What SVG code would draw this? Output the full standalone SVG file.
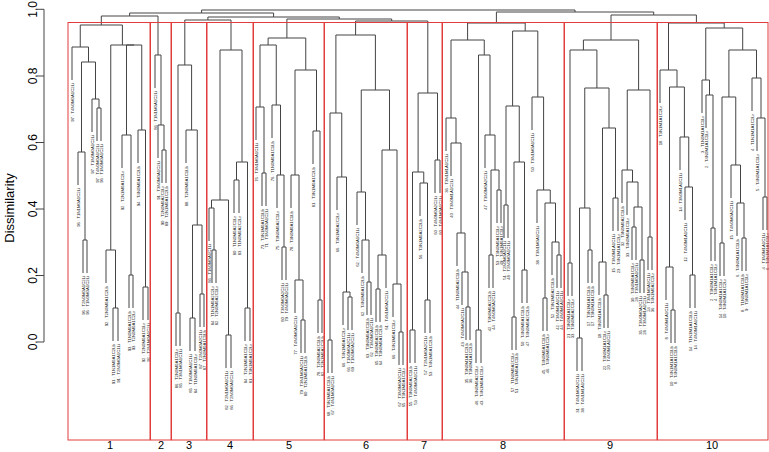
<svg xmlns="http://www.w3.org/2000/svg" width="769" height="452" viewBox="0 0 769 452">
<style>
.e{fill:none;stroke:#444;stroke-width:1}
.bx{fill:none;stroke:#e33c3c;stroke-width:1}
.l{font-family:"Liberation Sans",Arial,sans-serif;font-size:4.3px;fill:#222;text-anchor:end;dominant-baseline:central}
.ax{font-family:"Liberation Sans",Arial,sans-serif;font-size:12px;fill:#000;text-anchor:middle}
.yl{font-family:"Liberation Sans",Arial,sans-serif;font-size:13px;fill:#000;text-anchor:middle}
.cn{font-family:"Liberation Sans",Arial,sans-serif;font-size:11px;fill:#000;text-anchor:middle}
</style>
<rect width="769" height="452" fill="#fff"/>
<g id="axis">
<path class="e" stroke="#000" d="M44 9.3V342M37 342H44M37 275.5H44M37 209H44M37 142.5H44M37 76H44M37 9.3H44"/>
<text class="ax" transform="translate(37,342) rotate(-90)">0.0</text>
<text class="ax" transform="translate(37,275.5) rotate(-90)">0.2</text>
<text class="ax" transform="translate(37,209) rotate(-90)">0.4</text>
<text class="ax" transform="translate(37,142.5) rotate(-90)">0.6</text>
<text class="ax" transform="translate(37,76) rotate(-90)">0.8</text>
<text class="ax" transform="translate(37,9.3) rotate(-90)">1.0</text>
<text class="yl" transform="translate(14,208) rotate(-90)">Dissimilarity</text>
</g>
<g id="connectors">
<path class="e" d="M388 10H201.6V13M388 10H575V12M201.6 13H129.65V16M201.6 13H273.6V17M575 12H496.4V23M575 12H653.7V15M129.65 16H101.3V25M129.65 16H158V55M273.6 17H207.9V20M273.6 17H339.3V19M207.9 20H184.8V65M207.9 20H231V50M339.3 19H286.9V38M339.3 19H391.7V21M391.7 21H355.6V35M391.7 21H427.8V93M653.7 15H611V40M653.7 15H696.4V23"/>
<path class="e" d="M83 273V240H87V273M78 185V152H85V240M97 141V108H101V141M92 132V99H99V108M81.5 152V62H95.5V99M72 80V47H88.5V62M113 341V308H118V341M106 283V250H115.5V308M129 308V275H133V308M122 168V135H131V275M143 320V287H148V320M138 163V130H145.5V287M126.5 135V45H141.75V130M110.75 250V45H134.1M80.25 47V25H122.4V45"/>
<path class="e" d="M162 183V150H166V183M158 158V125H164V150M155 88V55H161V125"/>
<path class="e" d="M176 346V313H180V346M190 351V318H195V351M200 327V294H204V327M192.5 318V225H202V294M186 163V130H197.25V225M178 313V65H191.6V130"/>
<path class="e" d="M212 283V250H216V283M209 241V208H214V250M226 368V335H231V368M211.5 208V200H228.5V335M234 213V180H239V213M245 341V308H250V341M236.5 180V162H247.5V308M220 200V50H242V162"/>
<path class="e" d="M262 206V173H266V206M256 140V107H264V173M282 280V247H286V280M277 208V175H284V247M272 138V105H280.5V175M260 107V45H276.25V105M301 353V320H305V353M295 313V280H303V320M291 208V175H299V280M318 333V300H322V333M313 164V131H320V300M295 175V70H316.5V131M268.1 45V38H305.75V70"/>
<path class="e" d="M328 373V340H332V373M348 330V297H352V330M343 325V292H350V297M337 210V177H346.5V292M330 340V113H341.75V177M367 315V282H371V315M362 273V240H369V282M357 225V192H365.5V240M376 322V289H380V322M378 289V255H386V288M399 365V332H403V365M393 317V284H401V332M382 255V150H397V284M361.25 192V90H389.5V150M335.9 113V35H375.4V90"/>
<path class="e" d="M410 363V330H415V363M425 333V300H430V333M420 216V183H427.5V300M412.5 330V172H423.75V183M435 193V160H440V193M418.1 172V93H437.5V160"/>
<path class="e" d="M466 340V307H470V340M462 305V272H468V307M457 266V233H465V272M451 176V143H461V233M446 151V118H456V143M476 363V330H481V363M489 288V255H493V288M497 223V190H501V223M491 255V170H499V190M485 168V135H495V170M478.5 330V55H490V135M451 118V40H484.25V55M504 238V205H508V238M512 350V317H516V350M522 303V270H527V303M514 317V162H524.5V270M506 205V106H519.25V162M543 331V298H547V331M557 288V255H561V288M552 275V242H559V255M545 298V203H555.5V242M537 223V190H550.25V203M532 130V97H543.6V190M512.6 106V31H537.8V97M467.6 40V23H525.2V31"/>
<path class="e" d="M568 296V263H572V296M577 371V338H582V371M588 283V250H592V283M579.5 338V208H590V250M604 328V295H608V328M599 295V262H606V295M613 231V198H618V231M602.5 262V128H615.5V198M584.75 208V88H609V128M570 263V50H596.9V88M632 260V227H636V260M640 293V260H644V293M634 227V207H642V260M627 215V182H638V207M622 203V170H632.5V182M648 270V237H652V270M627.25 170V90H650V237M583.4 50V40H638.6V90"/>
<path class="e" d="M671 343V310H675V343M666 300V267H673V310M690 308V275H695V308M685 220V187H692.5V275M680 170V137H688.75V187M669.5 267V87H684.4V137M660 103V70H677V87M711 261V228H715V261M706 128V95H713V228M702 113V80H709.5V95M720 276V243H724V276M742 271V238H746V271M737 236V203H744V238M731 198V165H740.5V203M722 243V97H735.75V165M763 230V197H767V230M757 151V118H765V197M752 111V78H761V118M728.9 97V50H756.5V78M705.75 80V28H742.7V50M668.5 70V23H724.2V28"/>
</g>
<g id="cluster-1">
<text class="l" transform="translate(72,83) rotate(-90)">97 : T4N0M0A1C2Li</text>
<text class="l" transform="translate(78,188) rotate(-90)">96 : T1N1M0A1C2Li</text>
<text class="l" transform="translate(83,276) rotate(-90)">96 : T2N0M0A1C2Li</text>
<text class="l" transform="translate(87,276) rotate(-90)">96 : T1N0M0A1C2Li</text>
<text class="l" transform="translate(92,135) rotate(-90)">97 : T1N0M0A1C2Li</text>
<text class="l" transform="translate(97,144) rotate(-90)">97 : T4N0M0A1C2Li</text>
<text class="l" transform="translate(101,144) rotate(-90)">96 : T1N0M0A1C2Li</text>
<text class="l" transform="translate(106,286) rotate(-90)">92 : T2N0M0A1C2Lb</text>
<text class="l" transform="translate(113,344) rotate(-90)">91 : T1N1M0A1C2Lb</text>
<text class="l" transform="translate(118,344) rotate(-90)">91 : T2N0M0A1C1Li</text>
<text class="l" transform="translate(122,171) rotate(-90)">92 : T2N1M0A1C2Lr</text>
<text class="l" transform="translate(129,311) rotate(-90)">93 : T1N0M0A1C2Lb</text>
<text class="l" transform="translate(133,311) rotate(-90)">93 : T2N0M0A1C2Lr</text>
<text class="l" transform="translate(138,166) rotate(-90)">94 : T4N0M0A1C2Lb</text>
<text class="l" transform="translate(143,323) rotate(-90)">92 : T2N0M0A1C1Lr</text>
<text class="l" transform="translate(148,323) rotate(-90)">92 : T2N1M0A1C2Li</text>
</g>
<g id="cluster-2">
<text class="l" transform="translate(155,91) rotate(-90)">86 : T1N1M0A1C2Li</text>
<text class="l" transform="translate(158,161) rotate(-90)">91 : T3N0M0A1C2Li</text>
<text class="l" transform="translate(162,186) rotate(-90)">90 : T2N0M0A2C1Lr</text>
<text class="l" transform="translate(166,186) rotate(-90)">89 : T2N1M0A1C2Lb</text>
</g>
<g id="cluster-3">
<text class="l" transform="translate(176,349) rotate(-90)">86 : T2N0M0A1C1Lr</text>
<text class="l" transform="translate(180,349) rotate(-90)">85 : T3N1M0A1C1Li</text>
<text class="l" transform="translate(186,166) rotate(-90)">88 : T2N0M0A1C1Lb</text>
<text class="l" transform="translate(190,354) rotate(-90)">85 : T1N0M0A1C1Li</text>
<text class="l" transform="translate(195,354) rotate(-90)">84 : T1N0M0A1C1Lr</text>
<text class="l" transform="translate(200,330) rotate(-90)">87 : T2N0M0A2C1Li</text>
<text class="l" transform="translate(204,330) rotate(-90)">87 : T2N0M0A1C1Lb</text>
</g>
<g id="cluster-4">
<text class="l" transform="translate(209,244) rotate(-90)">86 : T1N0M0A1C1Li</text>
<text class="l" transform="translate(212,286) rotate(-90)">84 : T1N1M0A2C2Lr</text>
<text class="l" transform="translate(216,286) rotate(-90)">82 : T2N0M0A2C1Lr</text>
<text class="l" transform="translate(226,371) rotate(-90)">82 : T2N1M0A1C1Li</text>
<text class="l" transform="translate(231,371) rotate(-90)">86 : T2N0M0A1C2Li</text>
<text class="l" transform="translate(234,216) rotate(-90)">80 : T1N0M0A2C1Lr</text>
<text class="l" transform="translate(239,216) rotate(-90)">83 : T1N0M0A2C2Lr</text>
<text class="l" transform="translate(245,344) rotate(-90)">84 : T2N1M0A1C1Lr</text>
<text class="l" transform="translate(250,344) rotate(-90)">81 : T3N1M0A1C2Lr</text>
</g>
<g id="cluster-5">
<text class="l" transform="translate(256,143) rotate(-90)">76 : T3N1M0A1C1Li</text>
<text class="l" transform="translate(262,209) rotate(-90)">73 : T3N1M0A1C1Lb</text>
<text class="l" transform="translate(266,209) rotate(-90)">71 : T3N0M0A1C2Li</text>
<text class="l" transform="translate(272,141) rotate(-90)">76 : T1N0M0A1C1Lb</text>
<text class="l" transform="translate(277,211) rotate(-90)">75 : T3N0M0A2C1Lr</text>
<text class="l" transform="translate(282,283) rotate(-90)">80 : T3N0M0A2C2Li</text>
<text class="l" transform="translate(286,283) rotate(-90)">79 : T4N0M0A1C2Li</text>
<text class="l" transform="translate(291,211) rotate(-90)">78 : T3N0M0A1C1Lb</text>
<text class="l" transform="translate(295,316) rotate(-90)">77 : T4N0M0A1C2Li</text>
<text class="l" transform="translate(301,356) rotate(-90)">79 : T3N1M0A2C1Li</text>
<text class="l" transform="translate(305,356) rotate(-90)">80 : T2N1M0A1C1Lb</text>
<text class="l" transform="translate(313,167) rotate(-90)">81 : T3N1M0A1C2Lb</text>
<text class="l" transform="translate(318,336) rotate(-90)">78 : T2N0M0A2C1Lb</text>
<text class="l" transform="translate(322,336) rotate(-90)">82 : T2N1M0A2C2Lb</text>
</g>
<g id="cluster-6">
<text class="l" transform="translate(328,376) rotate(-90)">68 : T3N1M0A1C1Lb</text>
<text class="l" transform="translate(332,376) rotate(-90)">67 : T4N1M0A1C2Li</text>
<text class="l" transform="translate(337,213) rotate(-90)">66 : T3N1M0A2C2Lr</text>
<text class="l" transform="translate(343,328) rotate(-90)">66 : T4N1M0A1C2Lr</text>
<text class="l" transform="translate(348,333) rotate(-90)">66 : T1N0M0A2C1Li</text>
<text class="l" transform="translate(352,333) rotate(-90)">69 : T1N0M0A2C2Li</text>
<text class="l" transform="translate(357,228) rotate(-90)">62 : T4N0M0A1C1Li</text>
<text class="l" transform="translate(362,276) rotate(-90)">62 : T4N0M0A1C2Lb</text>
<text class="l" transform="translate(367,318) rotate(-90)">63 : T3N0M0A2C1Lb</text>
<text class="l" transform="translate(371,318) rotate(-90)">62 : T3N0M0A1C1Li</text>
<text class="l" transform="translate(376,325) rotate(-90)">65 : T3N0M0A2C1Lb</text>
<text class="l" transform="translate(380,325) rotate(-90)">64 : T3N0M0A1C2Lb</text>
<text class="l" transform="translate(386,291) rotate(-90)">61 : T4N1M0A2C2Li</text>
<text class="l" transform="translate(393,320) rotate(-90)">66 : T4N1M0A1C1Lr</text>
<text class="l" transform="translate(399,368) rotate(-90)">67 : T3N0M0A2C1Li</text>
<text class="l" transform="translate(403,368) rotate(-90)">65 : T3N1M0A1C1Lr</text>
</g>
<g id="cluster-7">
<text class="l" transform="translate(410,366) rotate(-90)">55 : T3N0M0A2C1Lb</text>
<text class="l" transform="translate(415,366) rotate(-90)">53 : T4N0M0A1C1Li</text>
<text class="l" transform="translate(420,219) rotate(-90)">56 : T3N1M0A2C2Lb</text>
<text class="l" transform="translate(425,336) rotate(-90)">57 : T2N1M0A2C1Li</text>
<text class="l" transform="translate(430,336) rotate(-90)">53 : T4N1M0A1C2Lb</text>
<text class="l" transform="translate(435,196) rotate(-90)">60 : T4N0M0A2C2Li</text>
<text class="l" transform="translate(440,196) rotate(-90)">60 : T4N1M0A1C2Li</text>
</g>
<g id="cluster-8">
<text class="l" transform="translate(446,154) rotate(-90)">36 : T3N1M1A1C2Li</text>
<text class="l" transform="translate(451,179) rotate(-90)">40 : T3N0M1A1C2Li</text>
<text class="l" transform="translate(457,269) rotate(-90)">44 : T1N0M0A2C1Lb</text>
<text class="l" transform="translate(462,308) rotate(-90)">43 : T4N0M0A2C1Li</text>
<text class="l" transform="translate(466,343) rotate(-90)">35 : T3N0M1A1C2Lb</text>
<text class="l" transform="translate(470,343) rotate(-90)">36 : T3N0M1A1C2Lb</text>
<text class="l" transform="translate(476,366) rotate(-90)">46 : T4N0M0A2C1Lr</text>
<text class="l" transform="translate(481,366) rotate(-90)">43 : T4N1M0A1C1Lr</text>
<text class="l" transform="translate(485,171) rotate(-90)">47 : T3N0M0A2C2Li</text>
<text class="l" transform="translate(489,291) rotate(-90)">42 : T3N0M0A2C2Lb</text>
<text class="l" transform="translate(493,291) rotate(-90)">44 : T4N0M0A2C1Li</text>
<text class="l" transform="translate(497,226) rotate(-90)">53 : T3N0M0A1C1Lr</text>
<text class="l" transform="translate(501,226) rotate(-90)">49 : T4N1M0A1C1Lr</text>
<text class="l" transform="translate(504,241) rotate(-90)">51 : T2N0M0A1C1Li</text>
<text class="l" transform="translate(508,241) rotate(-90)">48 : T2N0M0A1C1Li</text>
<text class="l" transform="translate(512,353) rotate(-90)">57 : T1N0M0A2C1Lr</text>
<text class="l" transform="translate(516,353) rotate(-90)">51 : T4N1M0A1C1Lb</text>
<text class="l" transform="translate(522,306) rotate(-90)">50 : T4N0M0A1C1Lb</text>
<text class="l" transform="translate(527,306) rotate(-90)">47 : T4N0M0A2C2Lb</text>
<text class="l" transform="translate(532,133) rotate(-90)">50 : T3N1M0A1C1Li</text>
<text class="l" transform="translate(537,226) rotate(-90)">38 : T3N1M0A1C2Li</text>
<text class="l" transform="translate(543,334) rotate(-90)">45 : T4N0M0A1C1Lb</text>
<text class="l" transform="translate(547,334) rotate(-90)">46 : T4N0M0A1C2Lr</text>
<text class="l" transform="translate(552,278) rotate(-90)">52 : T3N1M0A2C1Lb</text>
<text class="l" transform="translate(557,291) rotate(-90)">42 : T3N0M1A1C1Li</text>
<text class="l" transform="translate(561,291) rotate(-90)">44 : T4N0M1A1C1Li</text>
</g>
<g id="cluster-9">
<text class="l" transform="translate(568,299) rotate(-90)">21 : T3N0M1A1C1Lr</text>
<text class="l" transform="translate(572,299) rotate(-90)">33 : T3N0M0A2C1Lr</text>
<text class="l" transform="translate(577,374) rotate(-90)">31 : T4N1M0A2C1Li</text>
<text class="l" transform="translate(582,374) rotate(-90)">38 : T4N1M1A1C2Li</text>
<text class="l" transform="translate(588,286) rotate(-90)">17 : T3N1M1A1C1Lb</text>
<text class="l" transform="translate(592,286) rotate(-90)">17 : T3N0M1A1C1Lb</text>
<text class="l" transform="translate(599,298) rotate(-90)">18 : T3N0M1A1C1Lb</text>
<text class="l" transform="translate(604,331) rotate(-90)">22 : T3N0M1A1C1Lr</text>
<text class="l" transform="translate(608,331) rotate(-90)">20 : T4N0M1A1C2Li</text>
<text class="l" transform="translate(613,234) rotate(-90)">15 : T3N0M1A1C1Li</text>
<text class="l" transform="translate(618,234) rotate(-90)">23 : T4N1M1A1C2Lr</text>
<text class="l" transform="translate(622,206) rotate(-90)">32 : T3N0M0A2C1Lb</text>
<text class="l" transform="translate(627,218) rotate(-90)">33 : T4N0M0A1C1Lr</text>
<text class="l" transform="translate(632,263) rotate(-90)">30 : T4N0M0A1C1Lr</text>
<text class="l" transform="translate(636,263) rotate(-90)">28 : T3N1M0A1C2Li</text>
<text class="l" transform="translate(640,296) rotate(-90)">35 : T3N0M0A2C1Li</text>
<text class="l" transform="translate(644,296) rotate(-90)">28 : T3N0M1A1C2Li</text>
<text class="l" transform="translate(648,273) rotate(-90)">24 : T3N1M0A1C1Li</text>
<text class="l" transform="translate(652,273) rotate(-90)">36 : T4N1M0A2C2Lr</text>
</g>
<g id="cluster-10">
<text class="l" transform="translate(660,106) rotate(-90)">18 : T3N1M1A1C2Lr</text>
<text class="l" transform="translate(666,303) rotate(-90)">8 : T4N0M1A1C1Li</text>
<text class="l" transform="translate(671,346) rotate(-90)">10 : T4N1M1A1C1Lb</text>
<text class="l" transform="translate(675,346) rotate(-90)">8 : T4N0M1A1C1Lb</text>
<text class="l" transform="translate(680,173) rotate(-90)">14 : T3N0M1A1C1Li</text>
<text class="l" transform="translate(685,223) rotate(-90)">12 : T4N0M1A1C1Li</text>
<text class="l" transform="translate(690,311) rotate(-90)">14 : T1N1M1A1C1Lb</text>
<text class="l" transform="translate(695,311) rotate(-90)">14 : T4N0M1A1C1Li</text>
<text class="l" transform="translate(702,116) rotate(-90)">3 : T1N0M1A1C1Lr</text>
<text class="l" transform="translate(706,131) rotate(-90)">2 : T4N0M1A1C1Lr</text>
<text class="l" transform="translate(711,264) rotate(-90)">2 : T3N0M1A1C1Lr</text>
<text class="l" transform="translate(715,264) rotate(-90)">4 : T4N1M1A1C1Lr</text>
<text class="l" transform="translate(720,279) rotate(-90)">14 : T4N0M1A1C1Lr</text>
<text class="l" transform="translate(724,279) rotate(-90)">10 : T4N0M1A1C2Lr</text>
<text class="l" transform="translate(731,201) rotate(-90)">15 : T4N0M0A2C1Li</text>
<text class="l" transform="translate(737,239) rotate(-90)">6 : T4N0M1A1C1Lb</text>
<text class="l" transform="translate(742,274) rotate(-90)">8 : T1N0M1A1C1Lb</text>
<text class="l" transform="translate(746,274) rotate(-90)">9 : T3N0M1A1C1Lr</text>
<text class="l" transform="translate(752,114) rotate(-90)">4 : T1N1M1A1C2Lr</text>
<text class="l" transform="translate(757,154) rotate(-90)">5 : T4N0M1A1C1Lr</text>
<text class="l" transform="translate(763,233) rotate(-90)">4 : T1N0M1A1C1Li</text>
<text class="l" transform="translate(767,233) rotate(-90)">6 : T4N1M1A1C1Lr</text>
</g>
<g id="boxes">
<rect class="bx" x="68" y="22.5" width="82" height="417.5"/>
<rect class="bx" x="150.5" y="22.5" width="20.5" height="417.5"/>
<rect class="bx" x="171.5" y="22.5" width="35" height="417.5"/>
<rect class="bx" x="207" y="22.5" width="46" height="417.5"/>
<rect class="bx" x="253.5" y="22.5" width="70.5" height="417.5"/>
<rect class="bx" x="324.5" y="22.5" width="82.5" height="417.5"/>
<rect class="bx" x="407.5" y="22.5" width="34.5" height="417.5"/>
<rect class="bx" x="442.5" y="22.5" width="121.5" height="417.5"/>
<rect class="bx" x="564.5" y="22.5" width="92.5" height="417.5"/>
<rect class="bx" x="657.5" y="22.5" width="110.5" height="417.5"/>
<text class="cn" x="110" y="448.5">1</text>
<text class="cn" x="161" y="448.5">2</text>
<text class="cn" x="189" y="448.5">3</text>
<text class="cn" x="230" y="448.5">4</text>
<text class="cn" x="289" y="448.5">5</text>
<text class="cn" x="366" y="448.5">6</text>
<text class="cn" x="424" y="448.5">7</text>
<text class="cn" x="503" y="448.5">8</text>
<text class="cn" x="610" y="448.5">9</text>
<text class="cn" x="712" y="448.5">10</text>
</g>
</svg>
